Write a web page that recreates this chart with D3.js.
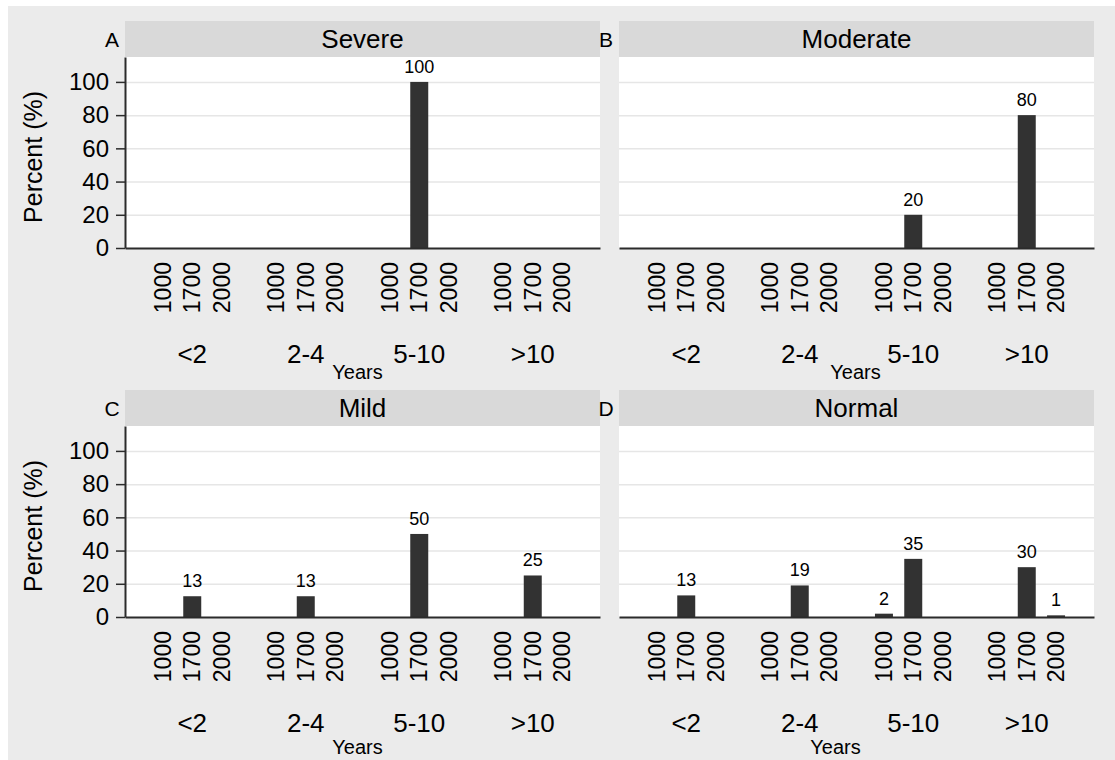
<!DOCTYPE html>
<html>
<head>
<meta charset="utf-8">
<script src="https://cdn.jsdelivr.net/npm/d3@7"></script>
<style>
  body { margin: 0; background: #fff; }
  text { font-family: "Liberation Sans", Arial, sans-serif; fill: #000; }
</style>
</head>
<body>
<div id="chart"></div>
<script>
// Data
const groups = ["<2", "2-4", "5-10", ">10"];
const subLabels = ["1000", "1700", "2000"];
const yTicks = [0, 20, 40, 60, 80, 100];

const severe   = [[0, 0, 0], [0, 0, 0], [0, 100, 0], [0, 0, 0]];
const moderate = [[0, 0, 0], [0, 0, 0], [0, 20, 0], [0, 80, 0]];
const mild     = [[0, 12.5, 0], [0, 12.5, 0], [0, 50, 0], [0, 25, 0]];
const normal   = [[0, 13, 0], [0, 19, 0], [2, 35, 0], [0, 30, 1]];

const panels = [
    { letter: "A", title: "Severe",   values: severe,   col: 0, row: 0, yearsDx: -5 },
    { letter: "B", title: "Moderate", values: moderate, col: 1, row: 0, yearsDx: -1 },
    { letter: "C", title: "Mild",     values: mild,     col: 0, row: 1, yearsDx: -5 },
    { letter: "D", title: "Normal",   values: normal,   col: 1, row: 1, yearsDx: -21 }
];

// Layout
const colLeft = [125, 619];
const rowTop = [21, 390];
const yearsBase = [131, 137];
const W = 475, stripH = 36, plotH = 191;

const svg = d3.select("#chart")
    .append("svg")
    .attr("width", 1115)
    .attr("height", 760);

svg.append("rect")
    .attr("x", 8).attr("y", 6)
    .attr("width", 1107).attr("height", 754)
    .attr("fill", "#ebebeb");

const x0 = d3.scaleBand().domain(groups).range([0, W]).paddingOuter(0.0925);
const x1 = d3.scaleBand().domain(subLabels).range([0, x0.bandwidth()])
    .paddingInner(0.386).paddingOuter(0.63);
const y = d3.scaleLinear().domain([0, 115]).range([plotH, 0]);
const fmt = d3.format(".0f");

panels.forEach(function(p) {
    const left = colLeft[p.col];
    const top = rowTop[p.row];

    // strip
    svg.append("rect")
        .attr("x", left).attr("y", top)
        .attr("width", W).attr("height", stripH)
        .attr("fill", "#d9d9d9");

    svg.append("text")
        .attr("x", left + W / 2)
        .attr("y", top + stripH / 2 + 9)
        .attr("text-anchor", "middle")
        .style("font-size", "26px")
        .text(p.title);

    svg.append("text")
        .attr("x", left - 13)
        .attr("y", top + stripH / 2 + 8)
        .attr("text-anchor", "middle")
        .style("font-size", "21px")
        .text(p.letter);

    const g = svg.append("g")
        .attr("transform", `translate(${left},${top + stripH})`);

    g.append("rect")
        .attr("width", W).attr("height", plotH)
        .attr("fill", "#fff");

    // gridlines
    g.append("g")
        .call(d3.axisLeft(y).tickValues(yTicks.slice(1)).tickSize(-W).tickFormat(""))
        .call(s => s.select(".domain").remove())
        .call(s => s.selectAll("line").attr("stroke", "#e6e6e6").attr("stroke-width", 1.5));

    // bars
    groups.forEach(function(grp, gi) {
        const gg = g.append("g").attr("transform", `translate(${x0(grp)},0)`);
        const rows = subLabels.map((s, si) => ({ sub: s, v: p.values[gi][si] }));

        gg.selectAll("rect.bar")
            .data(rows.filter(d => d.v > 0))
            .enter()
            .append("rect")
            .attr("class", "bar")
            .attr("x", d => x1(d.sub))
            .attr("width", x1.bandwidth())
            .attr("y", d => y(d.v))
            .attr("height", d => plotH - y(d.v))
            .attr("fill", "#323232");

        gg.selectAll("text.val")
            .data(rows.filter(d => d.v > 0))
            .enter()
            .append("text")
            .attr("class", "val")
            .attr("x", d => x1(d.sub) + x1.bandwidth() / 2)
            .attr("y", d => y(d.v) - 9)
            .attr("text-anchor", "middle")
            .style("font-size", "18px")
            .text(d => fmt(d.v));

        // sub labels
        gg.append("g")
            .attr("transform", `translate(0,${plotH})`)
            .call(d3.axisBottom(x1).tickSize(0).tickPadding(0))
            .call(s => s.select(".domain").remove())
            .call(s => s.selectAll("text")
                .attr("transform", "rotate(-90)")
                .attr("x", -14).attr("y", 0)
                .attr("dy", null)
                .attr("dominant-baseline", "central")
                .attr("text-anchor", "end")
                .attr("fill", "#000")
                .style("font-size", "23px")
                .style("font-family", "'Liberation Sans', Arial, sans-serif"));
    });

    // group axis / baseline
    g.append("g")
        .attr("transform", `translate(0,${plotH})`)
        .call(d3.axisBottom(x0).tickSize(0).tickSizeOuter(0).tickPadding(0))
        .call(s => s.select(".domain").attr("stroke", "#2b2b2b").attr("stroke-width", 2))
        .call(s => s.selectAll("text")
            .attr("y", 115).attr("dy", null)
            .attr("fill", "#000")
            .style("font-size", "26px")
            .style("font-family", "'Liberation Sans', Arial, sans-serif"));

    g.append("text")
        .attr("x", W / 2 + p.yearsDx)
        .attr("y", plotH + yearsBase[p.row])
        .attr("text-anchor", "middle")
        .style("font-size", "20px")
        .text("Years");

    // y axis on left panels
    if (p.col === 0) {
        g.append("g")
            .call(d3.axisLeft(y).tickValues(yTicks).tickSize(9).tickSizeOuter(0).tickPadding(7))
            .call(s => s.select(".domain").attr("stroke", "#2b2b2b").attr("stroke-width", 2))
            .call(s => s.selectAll("line").attr("stroke", "#2b2b2b").attr("stroke-width", 1.5))
            .call(s => s.selectAll("text")
                .attr("fill", "#000")
                .style("font-size", "24px")
                .style("font-family", "'Liberation Sans', Arial, sans-serif"));

        g.append("text")
            .attr("transform", `translate(-83,${(y(0) + y(100)) / 2 - 8}) rotate(-90)`)
            .attr("text-anchor", "middle")
            .style("font-size", "25px")
            .text("Percent (%)");
    }
});
</script>
</body>
</html>
